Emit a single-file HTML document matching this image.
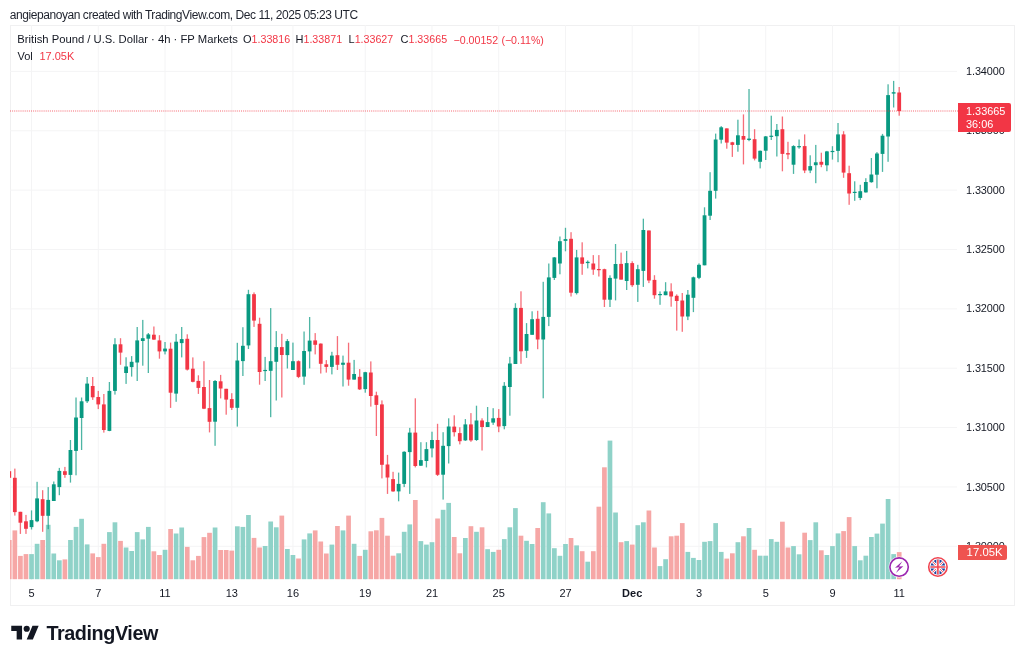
<!DOCTYPE html><html><head><meta charset="utf-8"><style>
*{margin:0;padding:0;box-sizing:border-box}
html,body{width:1024px;height:661px;overflow:hidden;background:#fff}
body{position:relative;font-family:"Liberation Sans",sans-serif;color:#131722}
.t{position:absolute;white-space:nowrap;line-height:1}
.frame{position:absolute;left:9.5px;top:24.5px;width:1005px;height:581px;border:1px solid #f0f0f1}
.r{color:#f23645}
.box{position:absolute;border-radius:0 2px 2px 0}
.pl{position:absolute;left:966px;font-size:10.9px;line-height:1;color:#131722}
.tl{position:absolute;top:587.7px;font-size:11px;line-height:1;color:#131722;transform:translateX(-50%)}

</style></head><body>
<div class="frame"></div>
<svg width="1024" height="661" viewBox="0 0 1024 661" style="position:absolute;left:0;top:0">
<defs><clipPath id="pane"><rect x="10" y="25" width="947" height="555"/></clipPath></defs>
<g><rect x="10" y="70.90" width="947" height="1" fill="#f4f4f5"/><rect x="10" y="130.26" width="947" height="1" fill="#f4f4f5"/><rect x="10" y="189.62" width="947" height="1" fill="#f4f4f5"/><rect x="10" y="248.98" width="947" height="1" fill="#f4f4f5"/><rect x="10" y="308.34" width="947" height="1" fill="#f4f4f5"/><rect x="10" y="367.70" width="947" height="1" fill="#f4f4f5"/><rect x="10" y="427.06" width="947" height="1" fill="#f4f4f5"/><rect x="10" y="486.42" width="947" height="1" fill="#f4f4f5"/><rect x="10" y="545.78" width="947" height="1" fill="#f4f4f5"/><rect x="31.03" y="25" width="1" height="555" fill="#f4f4f5"/><rect x="97.77" y="25" width="1" height="555" fill="#f4f4f5"/><rect x="164.52" y="25" width="1" height="555" fill="#f4f4f5"/><rect x="231.26" y="25" width="1" height="555" fill="#f4f4f5"/><rect x="292.44" y="25" width="1" height="555" fill="#f4f4f5"/><rect x="364.75" y="25" width="1" height="555" fill="#f4f4f5"/><rect x="431.49" y="25" width="1" height="555" fill="#f4f4f5"/><rect x="498.24" y="25" width="1" height="555" fill="#f4f4f5"/><rect x="564.98" y="25" width="1" height="555" fill="#f4f4f5"/><rect x="631.72" y="25" width="1" height="555" fill="#f4f4f5"/><rect x="698.47" y="25" width="1" height="555" fill="#f4f4f5"/><rect x="765.21" y="25" width="1" height="555" fill="#f4f4f5"/><rect x="831.96" y="25" width="1" height="555" fill="#f4f4f5"/><rect x="898.70" y="25" width="1" height="555" fill="#f4f4f5"/></g>
<g clip-path="url(#pane)"><rect x="6.93" y="540.0" width="4.7" height="39.2" fill="#f6a7a6"/><rect x="12.49" y="530.4" width="4.7" height="48.8" fill="#f6a7a6"/><rect x="18.05" y="555.9" width="4.7" height="23.3" fill="#f6a7a6"/><rect x="23.62" y="554.1" width="4.7" height="25.1" fill="#f6a7a6"/><rect x="29.18" y="554.1" width="4.7" height="25.1" fill="#8fd2c8"/><rect x="34.74" y="543.8" width="4.7" height="35.4" fill="#8fd2c8"/><rect x="40.30" y="540.0" width="4.7" height="39.2" fill="#f6a7a6"/><rect x="45.86" y="524.8" width="4.7" height="54.4" fill="#8fd2c8"/><rect x="51.43" y="553.5" width="4.7" height="25.7" fill="#8fd2c8"/><rect x="56.99" y="560.3" width="4.7" height="18.9" fill="#8fd2c8"/><rect x="62.55" y="559.4" width="4.7" height="19.8" fill="#f6a7a6"/><rect x="68.11" y="540.0" width="4.7" height="39.2" fill="#8fd2c8"/><rect x="73.67" y="526.9" width="4.7" height="52.3" fill="#8fd2c8"/><rect x="79.24" y="518.8" width="4.7" height="60.4" fill="#8fd2c8"/><rect x="84.80" y="544.4" width="4.7" height="34.8" fill="#8fd2c8"/><rect x="90.36" y="553.4" width="4.7" height="25.8" fill="#f6a7a6"/><rect x="95.92" y="557.1" width="4.7" height="22.1" fill="#f6a7a6"/><rect x="101.48" y="543.8" width="4.7" height="35.4" fill="#f6a7a6"/><rect x="107.05" y="532.1" width="4.7" height="47.1" fill="#8fd2c8"/><rect x="112.61" y="522.3" width="4.7" height="56.9" fill="#8fd2c8"/><rect x="118.17" y="540.9" width="4.7" height="38.3" fill="#f6a7a6"/><rect x="123.73" y="547.5" width="4.7" height="31.7" fill="#8fd2c8"/><rect x="129.29" y="551.0" width="4.7" height="28.2" fill="#8fd2c8"/><rect x="134.86" y="532.1" width="4.7" height="47.1" fill="#8fd2c8"/><rect x="140.42" y="539.4" width="4.7" height="39.8" fill="#8fd2c8"/><rect x="145.98" y="526.9" width="4.7" height="52.3" fill="#8fd2c8"/><rect x="151.54" y="551.3" width="4.7" height="27.9" fill="#f6a7a6"/><rect x="157.10" y="555.0" width="4.7" height="24.2" fill="#f6a7a6"/><rect x="162.67" y="549.8" width="4.7" height="29.4" fill="#8fd2c8"/><rect x="168.23" y="529.0" width="4.7" height="50.2" fill="#f6a7a6"/><rect x="173.79" y="533.5" width="4.7" height="45.7" fill="#8fd2c8"/><rect x="179.35" y="527.5" width="4.7" height="51.7" fill="#8fd2c8"/><rect x="184.91" y="546.9" width="4.7" height="32.3" fill="#f6a7a6"/><rect x="190.48" y="560.3" width="4.7" height="18.9" fill="#f6a7a6"/><rect x="196.04" y="555.9" width="4.7" height="23.3" fill="#f6a7a6"/><rect x="201.60" y="537.1" width="4.7" height="42.1" fill="#f6a7a6"/><rect x="207.16" y="532.8" width="4.7" height="46.4" fill="#f6a7a6"/><rect x="212.72" y="527.5" width="4.7" height="51.7" fill="#8fd2c8"/><rect x="218.29" y="550.0" width="4.7" height="29.2" fill="#f6a7a6"/><rect x="223.85" y="550.0" width="4.7" height="29.2" fill="#f6a7a6"/><rect x="229.41" y="550.6" width="4.7" height="28.6" fill="#f6a7a6"/><rect x="234.97" y="526.3" width="4.7" height="52.9" fill="#8fd2c8"/><rect x="240.53" y="526.9" width="4.7" height="52.3" fill="#8fd2c8"/><rect x="246.10" y="515.0" width="4.7" height="64.2" fill="#8fd2c8"/><rect x="251.66" y="537.9" width="4.7" height="41.3" fill="#f6a7a6"/><rect x="257.22" y="547.5" width="4.7" height="31.7" fill="#f6a7a6"/><rect x="262.78" y="546.0" width="4.7" height="33.2" fill="#8fd2c8"/><rect x="268.34" y="521.5" width="4.7" height="57.7" fill="#8fd2c8"/><rect x="273.91" y="527.3" width="4.7" height="51.9" fill="#8fd2c8"/><rect x="279.47" y="515.6" width="4.7" height="63.6" fill="#f6a7a6"/><rect x="285.03" y="549.0" width="4.7" height="30.2" fill="#8fd2c8"/><rect x="290.59" y="555.0" width="4.7" height="24.2" fill="#8fd2c8"/><rect x="296.15" y="558.5" width="4.7" height="20.7" fill="#f6a7a6"/><rect x="301.72" y="539.4" width="4.7" height="39.8" fill="#8fd2c8"/><rect x="307.28" y="533.4" width="4.7" height="45.8" fill="#8fd2c8"/><rect x="312.84" y="530.4" width="4.7" height="48.8" fill="#f6a7a6"/><rect x="318.40" y="541.5" width="4.7" height="37.7" fill="#f6a7a6"/><rect x="323.96" y="553.5" width="4.7" height="25.7" fill="#f6a7a6"/><rect x="329.53" y="544.6" width="4.7" height="34.6" fill="#8fd2c8"/><rect x="335.09" y="526.0" width="4.7" height="53.2" fill="#f6a7a6"/><rect x="340.65" y="530.4" width="4.7" height="48.8" fill="#8fd2c8"/><rect x="346.21" y="515.6" width="4.7" height="63.6" fill="#f6a7a6"/><rect x="351.77" y="543.8" width="4.7" height="35.4" fill="#8fd2c8"/><rect x="357.34" y="555.9" width="4.7" height="23.3" fill="#f6a7a6"/><rect x="362.90" y="549.8" width="4.7" height="29.4" fill="#8fd2c8"/><rect x="368.46" y="531.3" width="4.7" height="47.9" fill="#f6a7a6"/><rect x="374.02" y="530.3" width="4.7" height="48.9" fill="#f6a7a6"/><rect x="379.58" y="517.9" width="4.7" height="61.3" fill="#f6a7a6"/><rect x="385.15" y="535.7" width="4.7" height="43.5" fill="#f6a7a6"/><rect x="390.71" y="555.7" width="4.7" height="23.5" fill="#f6a7a6"/><rect x="396.27" y="553.3" width="4.7" height="25.9" fill="#8fd2c8"/><rect x="401.83" y="531.8" width="4.7" height="47.4" fill="#8fd2c8"/><rect x="407.39" y="524.4" width="4.7" height="54.8" fill="#8fd2c8"/><rect x="412.96" y="500.0" width="4.7" height="79.2" fill="#f6a7a6"/><rect x="418.52" y="541.1" width="4.7" height="38.1" fill="#8fd2c8"/><rect x="424.08" y="544.6" width="4.7" height="34.6" fill="#8fd2c8"/><rect x="429.64" y="542.2" width="4.7" height="37.0" fill="#8fd2c8"/><rect x="435.20" y="518.5" width="4.7" height="60.7" fill="#f6a7a6"/><rect x="440.77" y="509.8" width="4.7" height="69.4" fill="#8fd2c8"/><rect x="446.33" y="502.9" width="4.7" height="76.3" fill="#8fd2c8"/><rect x="451.89" y="537.0" width="4.7" height="42.2" fill="#f6a7a6"/><rect x="457.45" y="553.3" width="4.7" height="25.9" fill="#f6a7a6"/><rect x="463.01" y="538.0" width="4.7" height="41.2" fill="#8fd2c8"/><rect x="468.58" y="526.2" width="4.7" height="53.0" fill="#f6a7a6"/><rect x="474.14" y="531.8" width="4.7" height="47.4" fill="#8fd2c8"/><rect x="479.70" y="527.3" width="4.7" height="51.9" fill="#f6a7a6"/><rect x="485.26" y="549.2" width="4.7" height="30.0" fill="#8fd2c8"/><rect x="490.82" y="551.9" width="4.7" height="27.3" fill="#8fd2c8"/><rect x="496.39" y="549.8" width="4.7" height="29.4" fill="#f6a7a6"/><rect x="501.95" y="539.1" width="4.7" height="40.1" fill="#8fd2c8"/><rect x="507.51" y="527.3" width="4.7" height="51.9" fill="#8fd2c8"/><rect x="513.07" y="508.1" width="4.7" height="71.1" fill="#8fd2c8"/><rect x="518.63" y="535.7" width="4.7" height="43.5" fill="#f6a7a6"/><rect x="524.20" y="540.8" width="4.7" height="38.4" fill="#8fd2c8"/><rect x="529.76" y="544.0" width="4.7" height="35.2" fill="#8fd2c8"/><rect x="535.32" y="528.0" width="4.7" height="51.2" fill="#f6a7a6"/><rect x="540.88" y="502.2" width="4.7" height="77.0" fill="#8fd2c8"/><rect x="546.44" y="513.4" width="4.7" height="65.8" fill="#8fd2c8"/><rect x="552.01" y="548.2" width="4.7" height="31.0" fill="#8fd2c8"/><rect x="557.57" y="555.8" width="4.7" height="23.4" fill="#8fd2c8"/><rect x="563.13" y="544.0" width="4.7" height="35.2" fill="#8fd2c8"/><rect x="568.69" y="538.0" width="4.7" height="41.2" fill="#f6a7a6"/><rect x="574.25" y="545.4" width="4.7" height="33.8" fill="#8fd2c8"/><rect x="579.82" y="551.2" width="4.7" height="28.0" fill="#f6a7a6"/><rect x="585.38" y="561.7" width="4.7" height="17.5" fill="#8fd2c8"/><rect x="590.94" y="551.2" width="4.7" height="28.0" fill="#f6a7a6"/><rect x="596.50" y="506.7" width="4.7" height="72.5" fill="#f6a7a6"/><rect x="602.06" y="467.3" width="4.7" height="111.9" fill="#f6a7a6"/><rect x="607.63" y="440.6" width="4.7" height="138.6" fill="#8fd2c8"/><rect x="613.19" y="512.5" width="4.7" height="66.7" fill="#8fd2c8"/><rect x="618.75" y="542.2" width="4.7" height="37.0" fill="#f6a7a6"/><rect x="624.31" y="541.1" width="4.7" height="38.1" fill="#8fd2c8"/><rect x="629.87" y="544.6" width="4.7" height="34.6" fill="#f6a7a6"/><rect x="635.44" y="525.2" width="4.7" height="54.0" fill="#8fd2c8"/><rect x="641.00" y="522.3" width="4.7" height="56.9" fill="#8fd2c8"/><rect x="646.56" y="510.5" width="4.7" height="68.7" fill="#f6a7a6"/><rect x="652.12" y="547.5" width="4.7" height="31.7" fill="#f6a7a6"/><rect x="657.68" y="566.1" width="4.7" height="13.1" fill="#8fd2c8"/><rect x="663.25" y="559.2" width="4.7" height="20.0" fill="#8fd2c8"/><rect x="668.81" y="536.3" width="4.7" height="42.9" fill="#f6a7a6"/><rect x="674.37" y="535.7" width="4.7" height="43.5" fill="#f6a7a6"/><rect x="679.93" y="523.1" width="4.7" height="56.1" fill="#f6a7a6"/><rect x="685.49" y="551.9" width="4.7" height="27.3" fill="#8fd2c8"/><rect x="691.06" y="557.9" width="4.7" height="21.3" fill="#8fd2c8"/><rect x="696.62" y="560.0" width="4.7" height="19.2" fill="#8fd2c8"/><rect x="702.18" y="541.8" width="4.7" height="37.4" fill="#8fd2c8"/><rect x="707.74" y="541.1" width="4.7" height="38.1" fill="#8fd2c8"/><rect x="713.30" y="523.1" width="4.7" height="56.1" fill="#8fd2c8"/><rect x="718.87" y="551.9" width="4.7" height="27.3" fill="#8fd2c8"/><rect x="724.43" y="558.6" width="4.7" height="20.6" fill="#f6a7a6"/><rect x="729.99" y="553.3" width="4.7" height="25.9" fill="#f6a7a6"/><rect x="735.55" y="542.2" width="4.7" height="37.0" fill="#8fd2c8"/><rect x="741.11" y="536.3" width="4.7" height="42.9" fill="#f6a7a6"/><rect x="746.68" y="528.0" width="4.7" height="51.2" fill="#8fd2c8"/><rect x="752.24" y="549.8" width="4.7" height="29.4" fill="#f6a7a6"/><rect x="757.80" y="555.7" width="4.7" height="23.5" fill="#8fd2c8"/><rect x="763.36" y="555.7" width="4.7" height="23.5" fill="#8fd2c8"/><rect x="768.92" y="539.1" width="4.7" height="40.1" fill="#8fd2c8"/><rect x="774.49" y="541.8" width="4.7" height="37.4" fill="#8fd2c8"/><rect x="780.05" y="521.7" width="4.7" height="57.5" fill="#f6a7a6"/><rect x="785.61" y="547.5" width="4.7" height="31.7" fill="#f6a7a6"/><rect x="791.17" y="546.1" width="4.7" height="33.1" fill="#8fd2c8"/><rect x="796.73" y="554.3" width="4.7" height="24.9" fill="#8fd2c8"/><rect x="802.30" y="532.7" width="4.7" height="46.5" fill="#f6a7a6"/><rect x="807.86" y="540.1" width="4.7" height="39.1" fill="#8fd2c8"/><rect x="813.42" y="522.3" width="4.7" height="56.9" fill="#8fd2c8"/><rect x="818.98" y="550.3" width="4.7" height="28.9" fill="#f6a7a6"/><rect x="824.54" y="555.0" width="4.7" height="24.2" fill="#8fd2c8"/><rect x="830.11" y="546.1" width="4.7" height="33.1" fill="#8fd2c8"/><rect x="835.67" y="533.4" width="4.7" height="45.8" fill="#8fd2c8"/><rect x="841.23" y="531.1" width="4.7" height="48.1" fill="#f6a7a6"/><rect x="846.79" y="517.1" width="4.7" height="62.1" fill="#f6a7a6"/><rect x="852.35" y="546.1" width="4.7" height="33.1" fill="#8fd2c8"/><rect x="857.92" y="560.3" width="4.7" height="18.9" fill="#8fd2c8"/><rect x="863.48" y="555.7" width="4.7" height="23.5" fill="#8fd2c8"/><rect x="869.04" y="537.0" width="4.7" height="42.2" fill="#8fd2c8"/><rect x="874.60" y="533.6" width="4.7" height="45.6" fill="#8fd2c8"/><rect x="880.16" y="523.6" width="4.7" height="55.6" fill="#8fd2c8"/><rect x="885.73" y="499.0" width="4.7" height="80.2" fill="#8fd2c8"/><rect x="891.29" y="554.1" width="4.7" height="25.1" fill="#8fd2c8"/><rect x="896.85" y="552.1" width="4.7" height="27.1" fill="#f6a7a6"/></g>
<g clip-path="url(#pane)"><rect x="8.63" y="471.2" width="1.3" height="6.6" fill="#f23645" fill-opacity="0.72"/><rect x="7.38" y="471.2" width="3.8" height="6.6" fill="#f23645"/><rect x="14.19" y="468.6" width="1.3" height="47.0" fill="#f23645" fill-opacity="0.72"/><rect x="12.94" y="477.8" width="3.8" height="34.3" fill="#f23645"/><rect x="19.75" y="511.8" width="1.3" height="22.1" fill="#f23645" fill-opacity="0.72"/><rect x="18.50" y="511.8" width="3.8" height="10.9" fill="#f23645"/><rect x="25.32" y="514.9" width="1.3" height="19.0" fill="#f23645" fill-opacity="0.72"/><rect x="24.07" y="521.3" width="3.8" height="7.5" fill="#f23645"/><rect x="30.88" y="510.4" width="1.3" height="19.1" fill="#089981" fill-opacity="0.72"/><rect x="29.63" y="520.1" width="3.8" height="7.0" fill="#089981"/><rect x="36.44" y="481.8" width="1.3" height="40.4" fill="#089981" fill-opacity="0.72"/><rect x="35.19" y="498.4" width="3.8" height="22.9" fill="#089981"/><rect x="42.00" y="490.2" width="1.3" height="41.6" fill="#f23645" fill-opacity="0.72"/><rect x="40.75" y="499.2" width="3.8" height="16.6" fill="#f23645"/><rect x="47.56" y="487.1" width="1.3" height="42.1" fill="#089981" fill-opacity="0.72"/><rect x="46.31" y="499.9" width="3.8" height="15.9" fill="#089981"/><rect x="53.13" y="481.5" width="1.3" height="19.5" fill="#089981" fill-opacity="0.72"/><rect x="51.88" y="484.3" width="3.8" height="16.7" fill="#089981"/><rect x="58.69" y="467.9" width="1.3" height="27.3" fill="#089981" fill-opacity="0.72"/><rect x="57.44" y="470.9" width="3.8" height="16.2" fill="#089981"/><rect x="64.25" y="466.9" width="1.3" height="10.9" fill="#f23645" fill-opacity="0.72"/><rect x="63.00" y="471.2" width="3.8" height="3.7" fill="#f23645"/><rect x="69.81" y="440.0" width="1.3" height="42.6" fill="#089981" fill-opacity="0.72"/><rect x="68.56" y="450.0" width="3.8" height="24.9" fill="#089981"/><rect x="75.37" y="397.5" width="1.3" height="77.8" fill="#089981" fill-opacity="0.72"/><rect x="74.12" y="417.5" width="3.8" height="33.4" fill="#089981"/><rect x="80.94" y="397.5" width="1.3" height="52.5" fill="#089981" fill-opacity="0.72"/><rect x="79.69" y="401.3" width="3.8" height="16.7" fill="#089981"/><rect x="86.50" y="377.0" width="1.3" height="26.0" fill="#089981" fill-opacity="0.72"/><rect x="85.25" y="383.6" width="3.8" height="17.7" fill="#089981"/><rect x="92.06" y="377.0" width="1.3" height="22.9" fill="#f23645" fill-opacity="0.72"/><rect x="90.81" y="386.0" width="3.8" height="11.3" fill="#f23645"/><rect x="97.62" y="390.9" width="1.3" height="18.2" fill="#f23645" fill-opacity="0.72"/><rect x="96.37" y="397.0" width="3.8" height="7.4" fill="#f23645"/><rect x="103.18" y="394.0" width="1.3" height="38.6" fill="#f23645" fill-opacity="0.72"/><rect x="101.93" y="404.4" width="3.8" height="25.6" fill="#f23645"/><rect x="108.75" y="382.0" width="1.3" height="49.2" fill="#089981" fill-opacity="0.72"/><rect x="107.50" y="390.9" width="3.8" height="40.0" fill="#089981"/><rect x="114.31" y="338.2" width="1.3" height="56.4" fill="#089981" fill-opacity="0.72"/><rect x="113.06" y="344.3" width="3.8" height="46.6" fill="#089981"/><rect x="119.87" y="338.2" width="1.3" height="26.6" fill="#f23645" fill-opacity="0.72"/><rect x="118.62" y="344.3" width="3.8" height="8.3" fill="#f23645"/><rect x="125.43" y="357.3" width="1.3" height="26.6" fill="#089981" fill-opacity="0.72"/><rect x="124.18" y="366.5" width="3.8" height="6.5" fill="#089981"/><rect x="130.99" y="356.1" width="1.3" height="20.5" fill="#089981" fill-opacity="0.72"/><rect x="129.74" y="361.8" width="3.8" height="5.3" fill="#089981"/><rect x="136.56" y="327.0" width="1.3" height="54.0" fill="#089981" fill-opacity="0.72"/><rect x="135.31" y="340.4" width="3.8" height="22.1" fill="#089981"/><rect x="142.12" y="319.9" width="1.3" height="45.8" fill="#089981" fill-opacity="0.72"/><rect x="140.87" y="338.2" width="3.8" height="2.8" fill="#089981"/><rect x="147.68" y="333.0" width="1.3" height="40.0" fill="#089981" fill-opacity="0.72"/><rect x="146.43" y="334.4" width="3.8" height="4.3" fill="#089981"/><rect x="153.24" y="326.5" width="1.3" height="13.4" fill="#f23645" fill-opacity="0.72"/><rect x="151.99" y="334.7" width="3.8" height="4.9" fill="#f23645"/><rect x="158.80" y="335.2" width="1.3" height="23.5" fill="#f23645" fill-opacity="0.72"/><rect x="157.55" y="340.4" width="3.8" height="11.0" fill="#f23645"/><rect x="164.37" y="342.0" width="1.3" height="12.4" fill="#089981" fill-opacity="0.72"/><rect x="163.12" y="348.6" width="3.8" height="2.8" fill="#089981"/><rect x="169.93" y="342.6" width="1.3" height="65.3" fill="#f23645" fill-opacity="0.72"/><rect x="168.68" y="348.7" width="3.8" height="44.0" fill="#f23645"/><rect x="175.49" y="333.9" width="1.3" height="67.9" fill="#089981" fill-opacity="0.72"/><rect x="174.24" y="341.7" width="3.8" height="51.9" fill="#089981"/><rect x="181.05" y="327.0" width="1.3" height="30.4" fill="#089981" fill-opacity="0.72"/><rect x="179.80" y="339.1" width="3.8" height="4.0" fill="#089981"/><rect x="186.61" y="334.3" width="1.3" height="36.2" fill="#f23645" fill-opacity="0.72"/><rect x="185.36" y="338.8" width="3.8" height="30.8" fill="#f23645"/><rect x="192.18" y="357.4" width="1.3" height="24.9" fill="#f23645" fill-opacity="0.72"/><rect x="190.93" y="368.7" width="3.8" height="13.1" fill="#f23645"/><rect x="197.74" y="375.3" width="1.3" height="18.6" fill="#f23645" fill-opacity="0.72"/><rect x="196.49" y="380.9" width="3.8" height="7.0" fill="#f23645"/><rect x="203.30" y="361.2" width="1.3" height="47.9" fill="#f23645" fill-opacity="0.72"/><rect x="202.05" y="387.0" width="3.8" height="21.7" fill="#f23645"/><rect x="208.86" y="380.0" width="1.3" height="52.4" fill="#f23645" fill-opacity="0.72"/><rect x="207.61" y="408.1" width="3.8" height="13.7" fill="#f23645"/><rect x="214.42" y="380.0" width="1.3" height="65.8" fill="#089981" fill-opacity="0.72"/><rect x="213.17" y="381.0" width="3.8" height="40.7" fill="#089981"/><rect x="219.99" y="374.9" width="1.3" height="23.5" fill="#f23645" fill-opacity="0.72"/><rect x="218.74" y="381.3" width="3.8" height="7.2" fill="#f23645"/><rect x="225.55" y="388.8" width="1.3" height="25.9" fill="#f23645" fill-opacity="0.72"/><rect x="224.30" y="388.8" width="3.8" height="10.8" fill="#f23645"/><rect x="231.11" y="393.2" width="1.3" height="16.8" fill="#f23645" fill-opacity="0.72"/><rect x="229.86" y="399.1" width="3.8" height="8.7" fill="#f23645"/><rect x="236.67" y="342.8" width="1.3" height="83.8" fill="#089981" fill-opacity="0.72"/><rect x="235.42" y="360.5" width="3.8" height="47.3" fill="#089981"/><rect x="242.23" y="327.2" width="1.3" height="48.8" fill="#089981" fill-opacity="0.72"/><rect x="240.98" y="345.8" width="3.8" height="15.3" fill="#089981"/><rect x="247.80" y="289.8" width="1.3" height="59.2" fill="#089981" fill-opacity="0.72"/><rect x="246.55" y="294.2" width="3.8" height="51.2" fill="#089981"/><rect x="253.36" y="292.4" width="1.3" height="34.5" fill="#f23645" fill-opacity="0.72"/><rect x="252.11" y="294.2" width="3.8" height="26.4" fill="#f23645"/><rect x="258.92" y="317.7" width="1.3" height="67.0" fill="#f23645" fill-opacity="0.72"/><rect x="257.67" y="323.8" width="3.8" height="48.2" fill="#f23645"/><rect x="264.48" y="356.9" width="1.3" height="24.1" fill="#089981" fill-opacity="0.72"/><rect x="263.23" y="369.9" width="3.8" height="1.2" fill="#089981"/><rect x="270.04" y="308.1" width="1.3" height="109.1" fill="#089981" fill-opacity="0.72"/><rect x="268.79" y="361.2" width="3.8" height="9.6" fill="#089981"/><rect x="275.61" y="331.1" width="1.3" height="69.4" fill="#089981" fill-opacity="0.72"/><rect x="274.36" y="347.1" width="3.8" height="14.7" fill="#089981"/><rect x="281.17" y="333.8" width="1.3" height="63.7" fill="#f23645" fill-opacity="0.72"/><rect x="279.92" y="347.1" width="3.8" height="7.9" fill="#f23645"/><rect x="286.73" y="339.1" width="1.3" height="29.4" fill="#089981" fill-opacity="0.72"/><rect x="285.48" y="341.1" width="3.8" height="14.0" fill="#089981"/><rect x="292.29" y="342.6" width="1.3" height="27.4" fill="#089981" fill-opacity="0.72"/><rect x="291.04" y="361.2" width="3.8" height="8.8" fill="#089981"/><rect x="297.85" y="360.4" width="1.3" height="17.7" fill="#f23645" fill-opacity="0.72"/><rect x="296.60" y="361.2" width="3.8" height="15.7" fill="#f23645"/><rect x="303.42" y="331.5" width="1.3" height="53.3" fill="#089981" fill-opacity="0.72"/><rect x="302.17" y="351.0" width="3.8" height="25.6" fill="#089981"/><rect x="308.98" y="317.0" width="1.3" height="51.4" fill="#089981" fill-opacity="0.72"/><rect x="307.73" y="340.6" width="3.8" height="10.8" fill="#089981"/><rect x="314.54" y="333.1" width="1.3" height="21.3" fill="#f23645" fill-opacity="0.72"/><rect x="313.29" y="340.4" width="3.8" height="4.4" fill="#f23645"/><rect x="320.10" y="343.4" width="1.3" height="30.1" fill="#f23645" fill-opacity="0.72"/><rect x="318.85" y="343.6" width="3.8" height="20.2" fill="#f23645"/><rect x="325.66" y="360.1" width="1.3" height="12.5" fill="#f23645" fill-opacity="0.72"/><rect x="324.41" y="364.3" width="3.8" height="2.6" fill="#f23645"/><rect x="331.23" y="351.8" width="1.3" height="22.6" fill="#089981" fill-opacity="0.72"/><rect x="329.98" y="355.6" width="3.8" height="11.3" fill="#089981"/><rect x="336.79" y="336.1" width="1.3" height="33.9" fill="#f23645" fill-opacity="0.72"/><rect x="335.54" y="355.2" width="3.8" height="9.6" fill="#f23645"/><rect x="342.35" y="355.6" width="1.3" height="30.9" fill="#089981" fill-opacity="0.72"/><rect x="341.10" y="362.7" width="3.8" height="2.1" fill="#089981"/><rect x="347.91" y="342.7" width="1.3" height="43.0" fill="#f23645" fill-opacity="0.72"/><rect x="346.66" y="362.7" width="3.8" height="16.9" fill="#f23645"/><rect x="353.47" y="359.9" width="1.3" height="19.7" fill="#089981" fill-opacity="0.72"/><rect x="352.22" y="374.0" width="3.8" height="5.6" fill="#089981"/><rect x="359.04" y="369.1" width="1.3" height="20.9" fill="#f23645" fill-opacity="0.72"/><rect x="357.79" y="376.8" width="3.8" height="12.6" fill="#f23645"/><rect x="364.60" y="371.8" width="1.3" height="20.9" fill="#089981" fill-opacity="0.72"/><rect x="363.35" y="372.2" width="3.8" height="16.9" fill="#089981"/><rect x="370.16" y="361.4" width="1.3" height="45.2" fill="#f23645" fill-opacity="0.72"/><rect x="368.91" y="372.5" width="3.8" height="23.5" fill="#f23645"/><rect x="375.72" y="391.7" width="1.3" height="44.3" fill="#f23645" fill-opacity="0.72"/><rect x="374.47" y="395.3" width="3.8" height="9.6" fill="#f23645"/><rect x="381.28" y="400.4" width="1.3" height="78.0" fill="#f23645" fill-opacity="0.72"/><rect x="380.03" y="404.4" width="3.8" height="60.4" fill="#f23645"/><rect x="386.85" y="454.9" width="1.3" height="39.0" fill="#f23645" fill-opacity="0.72"/><rect x="385.60" y="464.5" width="3.8" height="13.0" fill="#f23645"/><rect x="392.41" y="471.8" width="1.3" height="20.0" fill="#f23645" fill-opacity="0.72"/><rect x="391.16" y="479.1" width="3.8" height="12.3" fill="#f23645"/><rect x="397.97" y="472.6" width="1.3" height="28.7" fill="#089981" fill-opacity="0.72"/><rect x="396.72" y="483.9" width="3.8" height="7.5" fill="#089981"/><rect x="403.53" y="451.2" width="1.3" height="35.9" fill="#089981" fill-opacity="0.72"/><rect x="402.28" y="451.8" width="3.8" height="32.1" fill="#089981"/><rect x="409.09" y="427.9" width="1.3" height="66.0" fill="#089981" fill-opacity="0.72"/><rect x="407.84" y="432.6" width="3.8" height="19.5" fill="#089981"/><rect x="414.66" y="398.3" width="1.3" height="69.1" fill="#f23645" fill-opacity="0.72"/><rect x="413.41" y="432.6" width="3.8" height="33.4" fill="#f23645"/><rect x="420.22" y="442.2" width="1.3" height="23.8" fill="#089981" fill-opacity="0.72"/><rect x="418.97" y="460.1" width="3.8" height="5.6" fill="#089981"/><rect x="425.78" y="442.2" width="1.3" height="25.2" fill="#089981" fill-opacity="0.72"/><rect x="424.53" y="449.1" width="3.8" height="11.9" fill="#089981"/><rect x="431.34" y="431.7" width="1.3" height="25.7" fill="#089981" fill-opacity="0.72"/><rect x="430.09" y="440.0" width="3.8" height="8.4" fill="#089981"/><rect x="436.90" y="423.8" width="1.3" height="52.2" fill="#f23645" fill-opacity="0.72"/><rect x="435.65" y="440.0" width="3.8" height="34.8" fill="#f23645"/><rect x="442.47" y="432.2" width="1.3" height="67.4" fill="#089981" fill-opacity="0.72"/><rect x="441.22" y="445.8" width="3.8" height="28.9" fill="#089981"/><rect x="448.03" y="418.3" width="1.3" height="45.2" fill="#089981" fill-opacity="0.72"/><rect x="446.78" y="426.5" width="3.8" height="19.6" fill="#089981"/><rect x="453.59" y="415.3" width="1.3" height="21.2" fill="#f23645" fill-opacity="0.72"/><rect x="452.34" y="426.6" width="3.8" height="5.6" fill="#f23645"/><rect x="459.15" y="427.3" width="1.3" height="17.1" fill="#f23645" fill-opacity="0.72"/><rect x="457.90" y="433.1" width="3.8" height="8.1" fill="#f23645"/><rect x="464.71" y="419.1" width="1.3" height="21.8" fill="#089981" fill-opacity="0.72"/><rect x="463.46" y="424.4" width="3.8" height="16.0" fill="#089981"/><rect x="470.28" y="413.1" width="1.3" height="28.7" fill="#f23645" fill-opacity="0.72"/><rect x="469.03" y="424.4" width="3.8" height="16.0" fill="#f23645"/><rect x="475.84" y="405.7" width="1.3" height="35.2" fill="#089981" fill-opacity="0.72"/><rect x="474.59" y="420.5" width="3.8" height="19.5" fill="#089981"/><rect x="481.40" y="418.3" width="1.3" height="32.2" fill="#f23645" fill-opacity="0.72"/><rect x="480.15" y="420.5" width="3.8" height="6.5" fill="#f23645"/><rect x="486.96" y="407.0" width="1.3" height="20.0" fill="#089981" fill-opacity="0.72"/><rect x="485.71" y="422.1" width="3.8" height="4.9" fill="#089981"/><rect x="492.52" y="408.2" width="1.3" height="16.7" fill="#089981" fill-opacity="0.72"/><rect x="491.27" y="418.3" width="3.8" height="4.3" fill="#089981"/><rect x="498.09" y="409.1" width="1.3" height="23.1" fill="#f23645" fill-opacity="0.72"/><rect x="496.84" y="417.9" width="3.8" height="8.6" fill="#f23645"/><rect x="503.65" y="382.1" width="1.3" height="47.2" fill="#089981" fill-opacity="0.72"/><rect x="502.40" y="385.8" width="3.8" height="40.3" fill="#089981"/><rect x="509.21" y="356.9" width="1.3" height="58.8" fill="#089981" fill-opacity="0.72"/><rect x="507.96" y="363.5" width="3.8" height="23.5" fill="#089981"/><rect x="514.77" y="303.2" width="1.3" height="60.8" fill="#089981" fill-opacity="0.72"/><rect x="513.52" y="307.9" width="3.8" height="56.1" fill="#089981"/><rect x="520.33" y="291.3" width="1.3" height="72.5" fill="#f23645" fill-opacity="0.72"/><rect x="519.08" y="307.9" width="3.8" height="43.4" fill="#f23645"/><rect x="525.90" y="323.1" width="1.3" height="34.8" fill="#089981" fill-opacity="0.72"/><rect x="524.65" y="334.0" width="3.8" height="16.8" fill="#089981"/><rect x="531.46" y="311.3" width="1.3" height="23.5" fill="#089981" fill-opacity="0.72"/><rect x="530.21" y="319.2" width="3.8" height="15.6" fill="#089981"/><rect x="537.02" y="310.8" width="1.3" height="38.4" fill="#f23645" fill-opacity="0.72"/><rect x="535.77" y="318.8" width="3.8" height="20.7" fill="#f23645"/><rect x="542.58" y="281.8" width="1.3" height="116.5" fill="#089981" fill-opacity="0.72"/><rect x="541.33" y="316.9" width="3.8" height="22.6" fill="#089981"/><rect x="548.14" y="263.5" width="1.3" height="62.6" fill="#089981" fill-opacity="0.72"/><rect x="546.89" y="277.4" width="3.8" height="39.5" fill="#089981"/><rect x="553.71" y="257.1" width="1.3" height="22.9" fill="#089981" fill-opacity="0.72"/><rect x="552.46" y="257.4" width="3.8" height="20.5" fill="#089981"/><rect x="559.27" y="236.5" width="1.3" height="37.8" fill="#089981" fill-opacity="0.72"/><rect x="558.02" y="241.2" width="3.8" height="22.3" fill="#089981"/><rect x="564.83" y="227.8" width="1.3" height="23.5" fill="#089981" fill-opacity="0.72"/><rect x="563.58" y="239.1" width="3.8" height="1.8" fill="#089981"/><rect x="570.39" y="232.2" width="1.3" height="64.3" fill="#f23645" fill-opacity="0.72"/><rect x="569.14" y="238.8" width="3.8" height="53.9" fill="#f23645"/><rect x="575.95" y="249.9" width="1.3" height="44.6" fill="#089981" fill-opacity="0.72"/><rect x="574.70" y="257.4" width="3.8" height="35.7" fill="#089981"/><rect x="581.52" y="242.3" width="1.3" height="32.5" fill="#f23645" fill-opacity="0.72"/><rect x="580.27" y="257.4" width="3.8" height="6.4" fill="#f23645"/><rect x="587.08" y="260.4" width="1.3" height="8.0" fill="#089981" fill-opacity="0.72"/><rect x="585.83" y="261.8" width="3.8" height="1.3" fill="#089981"/><rect x="592.64" y="255.1" width="1.3" height="19.7" fill="#f23645" fill-opacity="0.72"/><rect x="591.39" y="263.5" width="3.8" height="6.1" fill="#f23645"/><rect x="598.20" y="255.1" width="1.3" height="21.4" fill="#f23645" fill-opacity="0.72"/><rect x="596.95" y="269.0" width="3.8" height="1.2" fill="#f23645"/><rect x="603.76" y="268.7" width="1.3" height="38.3" fill="#f23645" fill-opacity="0.72"/><rect x="602.51" y="269.2" width="3.8" height="30.5" fill="#f23645"/><rect x="609.33" y="275.3" width="1.3" height="31.7" fill="#089981" fill-opacity="0.72"/><rect x="608.08" y="277.9" width="3.8" height="21.8" fill="#089981"/><rect x="614.89" y="244.0" width="1.3" height="56.4" fill="#089981" fill-opacity="0.72"/><rect x="613.64" y="264.0" width="3.8" height="14.6" fill="#089981"/><rect x="620.45" y="252.6" width="1.3" height="27.0" fill="#f23645" fill-opacity="0.72"/><rect x="619.20" y="263.9" width="3.8" height="15.7" fill="#f23645"/><rect x="626.01" y="250.9" width="1.3" height="39.1" fill="#089981" fill-opacity="0.72"/><rect x="624.76" y="263.1" width="3.8" height="17.9" fill="#089981"/><rect x="631.57" y="261.3" width="1.3" height="25.6" fill="#f23645" fill-opacity="0.72"/><rect x="630.32" y="263.1" width="3.8" height="22.1" fill="#f23645"/><rect x="637.14" y="264.8" width="1.3" height="37.1" fill="#089981" fill-opacity="0.72"/><rect x="635.89" y="269.2" width="3.8" height="15.6" fill="#089981"/><rect x="642.70" y="218.7" width="1.3" height="68.2" fill="#089981" fill-opacity="0.72"/><rect x="641.45" y="230.0" width="3.8" height="40.9" fill="#089981"/><rect x="648.26" y="230.5" width="1.3" height="52.6" fill="#f23645" fill-opacity="0.72"/><rect x="647.01" y="230.5" width="3.8" height="50.0" fill="#f23645"/><rect x="653.82" y="275.2" width="1.3" height="23.5" fill="#f23645" fill-opacity="0.72"/><rect x="652.57" y="279.9" width="3.8" height="15.3" fill="#f23645"/><rect x="659.38" y="291.4" width="1.3" height="13.4" fill="#089981" fill-opacity="0.72"/><rect x="658.13" y="294.0" width="3.8" height="1.2" fill="#089981"/><rect x="664.95" y="282.2" width="1.3" height="13.0" fill="#089981" fill-opacity="0.72"/><rect x="663.70" y="291.4" width="3.8" height="3.8" fill="#089981"/><rect x="670.51" y="283.3" width="1.3" height="23.4" fill="#f23645" fill-opacity="0.72"/><rect x="669.26" y="291.4" width="3.8" height="5.1" fill="#f23645"/><rect x="676.07" y="294.4" width="1.3" height="36.2" fill="#f23645" fill-opacity="0.72"/><rect x="674.82" y="295.8" width="3.8" height="5.2" fill="#f23645"/><rect x="681.63" y="293.0" width="1.3" height="38.8" fill="#f23645" fill-opacity="0.72"/><rect x="680.38" y="300.5" width="3.8" height="16.0" fill="#f23645"/><rect x="687.19" y="290.0" width="1.3" height="30.1" fill="#089981" fill-opacity="0.72"/><rect x="685.94" y="294.7" width="3.8" height="21.8" fill="#089981"/><rect x="692.76" y="276.6" width="1.3" height="35.5" fill="#089981" fill-opacity="0.72"/><rect x="691.51" y="277.3" width="3.8" height="20.5" fill="#089981"/><rect x="698.32" y="263.4" width="1.3" height="15.7" fill="#089981" fill-opacity="0.72"/><rect x="697.07" y="264.8" width="3.8" height="13.0" fill="#089981"/><rect x="703.88" y="207.3" width="1.3" height="58.0" fill="#089981" fill-opacity="0.72"/><rect x="702.63" y="215.3" width="3.8" height="50.0" fill="#089981"/><rect x="709.44" y="172.2" width="1.3" height="47.8" fill="#089981" fill-opacity="0.72"/><rect x="708.19" y="190.8" width="3.8" height="24.9" fill="#089981"/><rect x="715.00" y="133.6" width="1.3" height="65.0" fill="#089981" fill-opacity="0.72"/><rect x="713.75" y="139.5" width="3.8" height="51.3" fill="#089981"/><rect x="720.57" y="126.1" width="1.3" height="17.4" fill="#089981" fill-opacity="0.72"/><rect x="719.32" y="127.3" width="3.8" height="12.4" fill="#089981"/><rect x="726.13" y="128.4" width="1.3" height="20.3" fill="#f23645" fill-opacity="0.72"/><rect x="724.88" y="128.4" width="3.8" height="14.2" fill="#f23645"/><rect x="731.69" y="141.8" width="1.3" height="15.1" fill="#f23645" fill-opacity="0.72"/><rect x="730.44" y="142.3" width="3.8" height="2.6" fill="#f23645"/><rect x="737.25" y="119.7" width="1.3" height="32.0" fill="#089981" fill-opacity="0.72"/><rect x="736.00" y="135.3" width="3.8" height="9.6" fill="#089981"/><rect x="742.81" y="114.4" width="1.3" height="50.0" fill="#f23645" fill-opacity="0.72"/><rect x="741.56" y="136.0" width="3.8" height="3.7" fill="#f23645"/><rect x="748.38" y="89.0" width="1.3" height="52.2" fill="#089981" fill-opacity="0.72"/><rect x="747.13" y="138.6" width="3.8" height="1.4" fill="#089981"/><rect x="753.94" y="129.2" width="1.3" height="31.2" fill="#f23645" fill-opacity="0.72"/><rect x="752.69" y="139.2" width="3.8" height="19.4" fill="#f23645"/><rect x="759.50" y="150.5" width="1.3" height="17.9" fill="#089981" fill-opacity="0.72"/><rect x="758.25" y="150.8" width="3.8" height="11.0" fill="#089981"/><rect x="765.06" y="136.0" width="1.3" height="24.0" fill="#089981" fill-opacity="0.72"/><rect x="763.81" y="136.4" width="3.8" height="14.3" fill="#089981"/><rect x="770.62" y="115.7" width="1.3" height="24.3" fill="#089981" fill-opacity="0.72"/><rect x="769.37" y="135.7" width="3.8" height="1.2" fill="#089981"/><rect x="776.19" y="124.0" width="1.3" height="32.5" fill="#089981" fill-opacity="0.72"/><rect x="774.94" y="129.9" width="3.8" height="6.3" fill="#089981"/><rect x="781.75" y="116.5" width="1.3" height="54.8" fill="#f23645" fill-opacity="0.72"/><rect x="780.50" y="129.2" width="3.8" height="24.7" fill="#f23645"/><rect x="787.31" y="141.8" width="1.3" height="17.4" fill="#f23645" fill-opacity="0.72"/><rect x="786.06" y="153.1" width="3.8" height="1.4" fill="#f23645"/><rect x="792.87" y="145.2" width="1.3" height="28.7" fill="#089981" fill-opacity="0.72"/><rect x="791.62" y="146.1" width="3.8" height="18.6" fill="#089981"/><rect x="798.43" y="139.5" width="1.3" height="9.2" fill="#089981" fill-opacity="0.72"/><rect x="797.18" y="146.1" width="3.8" height="1.2" fill="#089981"/><rect x="804.00" y="134.4" width="1.3" height="38.7" fill="#f23645" fill-opacity="0.72"/><rect x="802.75" y="146.1" width="3.8" height="24.4" fill="#f23645"/><rect x="809.56" y="155.3" width="1.3" height="17.8" fill="#089981" fill-opacity="0.72"/><rect x="808.31" y="166.1" width="3.8" height="4.4" fill="#089981"/><rect x="815.12" y="144.9" width="1.3" height="38.3" fill="#089981" fill-opacity="0.72"/><rect x="813.87" y="162.3" width="3.8" height="2.9" fill="#089981"/><rect x="820.68" y="152.7" width="1.3" height="14.5" fill="#f23645" fill-opacity="0.72"/><rect x="819.43" y="161.8" width="3.8" height="2.9" fill="#f23645"/><rect x="826.24" y="150.9" width="1.3" height="20.3" fill="#089981" fill-opacity="0.72"/><rect x="824.99" y="151.4" width="3.8" height="13.9" fill="#089981"/><rect x="831.81" y="146.2" width="1.3" height="13.4" fill="#089981" fill-opacity="0.72"/><rect x="830.56" y="150.9" width="3.8" height="1.2" fill="#089981"/><rect x="837.37" y="123.0" width="1.3" height="39.2" fill="#089981" fill-opacity="0.72"/><rect x="836.12" y="134.4" width="3.8" height="16.5" fill="#089981"/><rect x="842.93" y="131.2" width="1.3" height="46.6" fill="#f23645" fill-opacity="0.72"/><rect x="841.68" y="134.4" width="3.8" height="38.2" fill="#f23645"/><rect x="848.49" y="165.7" width="1.3" height="39.1" fill="#f23645" fill-opacity="0.72"/><rect x="847.24" y="173.2" width="3.8" height="20.3" fill="#f23645"/><rect x="854.05" y="181.3" width="1.3" height="19.5" fill="#089981" fill-opacity="0.72"/><rect x="852.80" y="191.8" width="3.8" height="1.2" fill="#089981"/><rect x="859.62" y="184.8" width="1.3" height="15.3" fill="#089981" fill-opacity="0.72"/><rect x="858.37" y="191.2" width="3.8" height="6.7" fill="#089981"/><rect x="865.18" y="178.2" width="1.3" height="14.4" fill="#089981" fill-opacity="0.72"/><rect x="863.93" y="182.0" width="3.8" height="10.4" fill="#089981"/><rect x="870.74" y="158.0" width="1.3" height="24.7" fill="#089981" fill-opacity="0.72"/><rect x="869.49" y="174.5" width="3.8" height="7.7" fill="#089981"/><rect x="876.30" y="152.1" width="1.3" height="36.2" fill="#089981" fill-opacity="0.72"/><rect x="875.05" y="153.5" width="3.8" height="21.2" fill="#089981"/><rect x="881.86" y="133.9" width="1.3" height="38.0" fill="#089981" fill-opacity="0.72"/><rect x="880.61" y="135.7" width="3.8" height="18.2" fill="#089981"/><rect x="887.43" y="84.3" width="1.3" height="77.5" fill="#089981" fill-opacity="0.72"/><rect x="886.18" y="95.1" width="3.8" height="41.4" fill="#089981"/><rect x="892.99" y="80.9" width="1.3" height="26.6" fill="#089981" fill-opacity="0.72"/><rect x="891.74" y="92.2" width="3.8" height="1.4" fill="#089981"/><rect x="898.55" y="87.0" width="1.3" height="28.7" fill="#f23645" fill-opacity="0.72"/><rect x="897.30" y="92.5" width="3.8" height="18.5" fill="#f23645"/></g>
<line x1="10" y1="110.95" x2="958" y2="110.95" stroke="#f23645" stroke-opacity="0.38" stroke-width="2" stroke-dasharray="1 1.1"/>
<circle cx="899.1" cy="567.1" r="10.6" fill="#fff" fill-opacity="0.7"/>
<circle cx="899.1" cy="567.1" r="9.2" fill="#fff" stroke="#9c27b0" stroke-width="1.6"/>
<path d="M902.4 561.2 L895.0 567.7 L899.3 567.3 L895.9 573.0 L903.3 566.2 L899.0 566.5 Z" fill="#9c27b0"/>
<circle cx="937.9" cy="567" r="9.2" fill="#fff" stroke="#f0434f" stroke-width="1.6"/>
<clipPath id="uk"><circle cx="937.9" cy="567" r="7.4"/></clipPath>
<g clip-path="url(#uk)"><rect x="929" y="558" width="18" height="18" fill="#1d43a0"/><g stroke="#fff" stroke-width="2.6"><line x1="930" y1="559.1" x2="945.8" y2="574.9"/><line x1="945.8" y1="559.1" x2="930" y2="574.9"/></g><g stroke="#f0434f" stroke-width="0.9"><line x1="930" y1="559.1" x2="945.8" y2="574.9"/><line x1="945.8" y1="559.1" x2="930" y2="574.9"/></g><g stroke="#fff" stroke-width="3.2"><line x1="937.9" y1="558" x2="937.9" y2="576"/><line x1="929" y1="567" x2="947" y2="567"/></g><g stroke="#f0434f" stroke-width="1.6"><line x1="937.9" y1="558" x2="937.9" y2="576"/><line x1="929" y1="567" x2="947" y2="567"/></g></g>
<g transform="translate(11.25,622.6) scale(0.772)" fill="#131722"><path d="M14 22H7V11H0V4h14v18zM28 22h-8l7.5-18h8L28 22z"/><circle cx="20" cy="8" r="4"/></g>
</svg>
<div class="t" style="left:9.8px;top:8.8px;font-size:12px;letter-spacing:-0.44px;color:#1e222d">angiepanoyan created with TradingView.com, Dec 11, 2025 05:23 UTC</div>
<div class="t" style="left:17.3px;top:34.2px;font-size:11.25px;color:#131722">British Pound / U.S. Dollar · 4h · FP Markets</div>
<div class="t" style="left:243px;top:34.4px;font-size:11px">O<span class="r" style="font-size:10.7px">1.33816</span></div>
<div class="t" style="left:295.5px;top:34.4px;font-size:11px">H<span class="r" style="font-size:10.7px">1.33871</span></div>
<div class="t" style="left:348.5px;top:34.4px;font-size:11px">L<span class="r" style="font-size:10.7px">1.33627</span></div>
<div class="t" style="left:400.5px;top:34.4px;font-size:11px">C<span class="r" style="font-size:10.7px">1.33665</span></div>
<div class="t r" style="left:453.6px;top:34.6px;font-size:10.6px">−0.00152</div>
<div class="t r" style="left:501.4px;top:34.6px;font-size:10.6px">(−0.11%)</div>
<div class="t" style="left:17.5px;top:50.5px;font-size:11px">Vol</div>
<div class="t r" style="left:39.4px;top:50.5px;font-size:11px">17.05K</div>
<div class="pl" style="top:66.0px;letter-spacing:-0.1px">1.34000</div>
<div class="pl" style="top:125.4px;letter-spacing:-0.1px">1.33500</div>
<div class="pl" style="top:184.7px;letter-spacing:-0.1px">1.33000</div>
<div class="pl" style="top:244.1px;letter-spacing:-0.1px">1.32500</div>
<div class="pl" style="top:303.4px;letter-spacing:-0.1px">1.32000</div>
<div class="pl" style="top:362.8px;letter-spacing:-0.1px">1.31500</div>
<div class="pl" style="top:422.2px;letter-spacing:-0.1px">1.31000</div>
<div class="pl" style="top:481.5px;letter-spacing:-0.1px">1.30500</div>
<div class="pl" style="top:540.9px;letter-spacing:-0.1px">1.30000</div>
<div class="box" style="left:958px;top:103px;width:52.8px;height:28.7px;background:#f23645"></div>
<div class="pl" style="top:106.3px;color:#fff">1.33665</div>
<div class="pl" style="top:119.4px;color:#fff">36:06</div>
<div class="box" style="left:958px;top:544.5px;width:49px;height:15.3px;background:#ef5350"></div>
<div class="pl" style="top:546.9px;color:#fff;left:966.6px;font-size:11.3px;letter-spacing:0.05px">17.05K</div>
<div class="tl" style="left:31.5px;">5</div>
<div class="tl" style="left:98.3px;">7</div>
<div class="tl" style="left:165.0px;">11</div>
<div class="tl" style="left:231.8px;">13</div>
<div class="tl" style="left:292.9px;">16</div>
<div class="tl" style="left:365.2px;">19</div>
<div class="tl" style="left:432.0px;">21</div>
<div class="tl" style="left:498.7px;">25</div>
<div class="tl" style="left:565.5px;">27</div>
<div class="tl" style="left:632.2px;font-weight:bold;">Dec</div>
<div class="tl" style="left:699.0px;">3</div>
<div class="tl" style="left:765.7px;">5</div>
<div class="tl" style="left:832.5px;">9</div>
<div class="tl" style="left:899.2px;">11</div>
<div class="t" style="left:46.4px;top:623.5px;font-size:19.8px;letter-spacing:-0.42px;font-weight:bold;color:#131722">TradingView</div>
</body></html>
